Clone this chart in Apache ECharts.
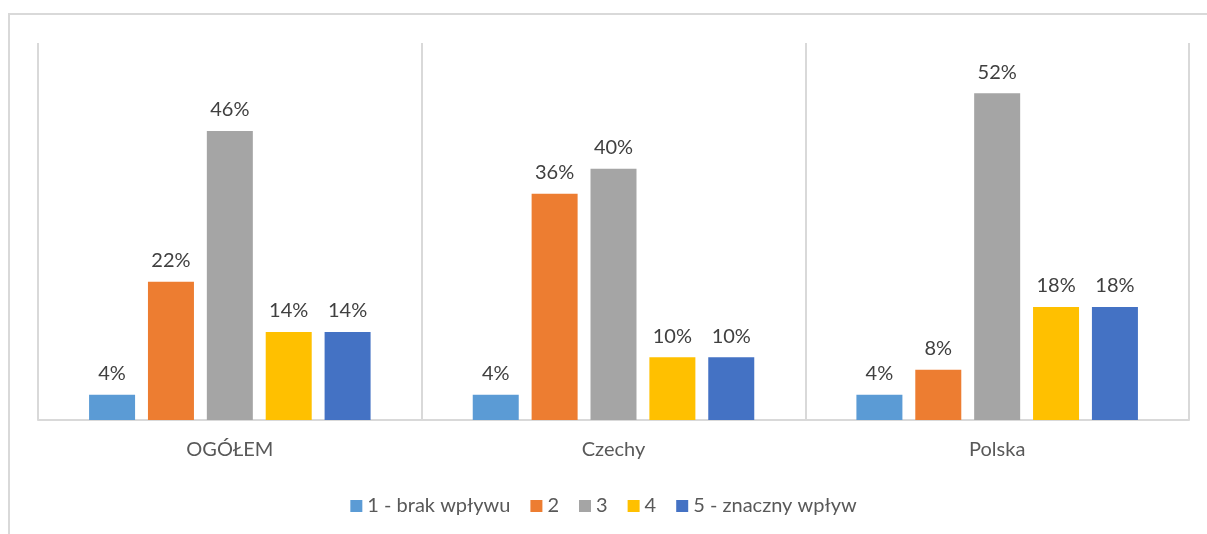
<!DOCTYPE html>
<html>
<head>
<meta charset="utf-8">
<script src="https://cdn.jsdelivr.net/npm/echarts@6/dist/echarts.min.js"></script>
<style>
  html, body { margin: 0; padding: 0; background: #fff; }
  #chart { width: 1207px; height: 534px; }
</style>
</head>
<body>
<div id="chart"></div>
<script>
// kategorie i wartości (%)
const categories = ['OGÓŁEM', 'Czechy', 'Polska'];
const seriesNames = ['1 - brak wpływu', '2', '3', '4', '5 - znaczny wpływ'];
const s1 = [4, 4, 4];
const s2 = [22, 36, 8];
const s3 = [46, 40, 52];
const s4 = [14, 10, 18];
const s5 = [14, 10, 18];
const colors = ['#5b9bd5', '#ed7d31', '#a5a5a5', '#ffc000', '#4472c4'];

const myChart = echarts.init(document.getElementById('chart'));
const font = 'Lato, "Open Sans", sans-serif';

const allData = [s1, s2, s3, s4, s5];

const options = {
  animation: false,
  textStyle: { fontFamily: font },
  graphic: [
    {
      type: 'rect',
      shape: { x: 9, y: 14, width: 1300, height: 600 },
      style: { fill: 'none', stroke: '#d9d9d9', lineWidth: 2 }
    }
  ],
  grid: { left: 38, right: 18, top: 43, bottom: 114 },
  legend: {
    bottom: 13,
    left: 'center',
    itemWidth: 12,
    itemHeight: 12,
    itemGap: 20,
    icon: 'rect',
    textStyle: { color: '#595959', fontSize: 20, fontFamily: font },
    data: seriesNames
  },
  xAxis: {
    type: 'category',
    data: categories,
    axisLine: { lineStyle: { color: '#d9d9d9', width: 2 } },
    axisTick: { show: false },
    axisLabel: { color: '#595959', fontSize: 20, margin: 20, fontFamily: font },
    splitLine: { show: true, lineStyle: { color: '#d9d9d9', width: 2 } }
  },
  yAxis: {
    type: 'value',
    min: 0,
    max: 60,
    show: false
  },
  series: seriesNames.map((name, i) => ({
    name: name,
    type: 'bar',
    data: allData[i],
    barWidth: 46,
    barGap: '28%',
    itemStyle: { color: colors[i] },
    label: {
      show: true,
      position: 'top',
      distance: 11,
      color: '#404040',
      fontSize: 20,
      fontFamily: font,
      formatter: '{c}%'
    }
  }))
};

myChart.setOption(options);
</script>
</body>
</html>
